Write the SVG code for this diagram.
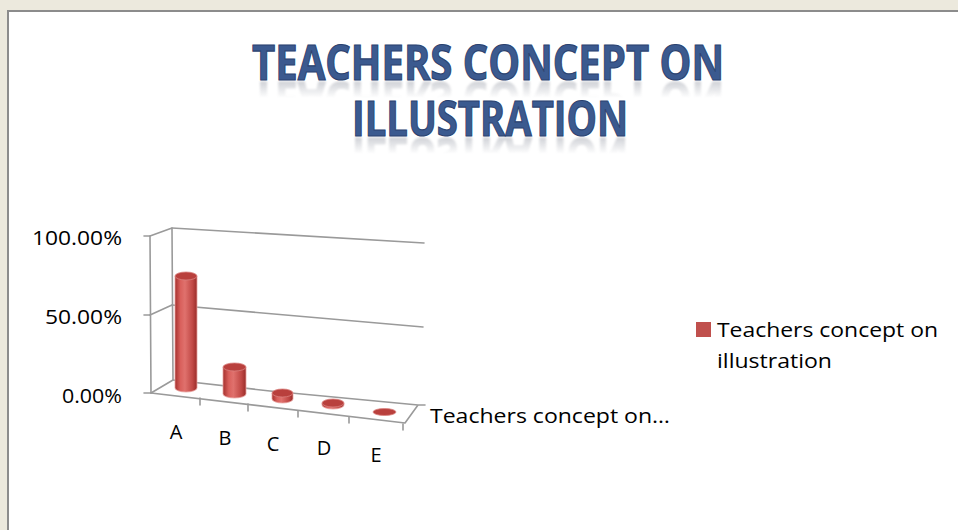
<svg xmlns="http://www.w3.org/2000/svg" xmlns:xlink="http://www.w3.org/1999/xlink" width="958" height="530" viewBox="0 0 958 530">
<style>
.ttl{font-family:"Open Sans","Liberation Sans",sans-serif;font-weight:bold;font-size:48px;fill:#3B5A8F;stroke:#2B426F;stroke-width:1.1}
.lbl{font-family:"Open Sans","Liberation Sans",sans-serif;font-size:20px;fill:#000}
.ax{fill:none;stroke:#9a9a9a;stroke-width:1.6;stroke-linecap:round;stroke-linejoin:round}
.top{fill:#b9403d;stroke:#d9827f;stroke-width:0.8}
.body{fill:url(#cyl);stroke:#e9a3a1;stroke-width:0.8}
</style>
<defs>
<linearGradient id="cyl" x1="0" y1="0" x2="1" y2="0">
<stop offset="0" stop-color="#a5302d"/>
<stop offset="0.25" stop-color="#d9605c"/>
<stop offset="0.45" stop-color="#e0716d"/>
<stop offset="0.8" stop-color="#c04845"/>
<stop offset="1" stop-color="#992c29"/>
</linearGradient>
<linearGradient id="fade1" gradientUnits="userSpaceOnUse" x1="0" y1="81" x2="0" y2="98">
<stop offset="0" stop-color="#fff" stop-opacity="0.28"/>
<stop offset="1" stop-color="#fff" stop-opacity="0"/>
</linearGradient>
<linearGradient id="fade2" gradientUnits="userSpaceOnUse" x1="0" y1="137" x2="0" y2="154">
<stop offset="0" stop-color="#fff" stop-opacity="0.28"/>
<stop offset="1" stop-color="#fff" stop-opacity="0"/>
</linearGradient>
<mask id="m1" maskUnits="userSpaceOnUse" x="0" y="0" width="958" height="530"><rect x="0" y="81" width="958" height="18" fill="url(#fade1)"/></mask>
<mask id="m2" maskUnits="userSpaceOnUse" x="0" y="0" width="958" height="530"><rect x="0" y="137" width="958" height="18" fill="url(#fade2)"/></mask>
<filter id="blur" x="-5%" y="-20%" width="110%" height="140%"><feGaussianBlur stdDeviation="1.1"/><feColorMatrix type="saturate" values="0.3"/></filter>
</defs>
<rect x="0" y="0" width="958" height="530" fill="#ECE9DD"/>
<rect x="8" y="11" width="960" height="530" fill="#ffffff" stroke="#8c8c8c" stroke-width="2"/>
<g id="title">
<text id="t1" class="ttl" x="252" y="80" textLength="472" lengthAdjust="spacingAndGlyphs">TEACHERS CONCEPT ON</text>
<text id="t2" class="ttl" x="352" y="136" textLength="276" lengthAdjust="spacingAndGlyphs">ILLUSTRATION</text>
<g mask="url(#m1)" filter="url(#blur)"><use xlink:href="#t1" href="#t1" transform="translate(0,162) scale(1,-1)"/></g>
<g mask="url(#m2)" filter="url(#blur)"><use xlink:href="#t2" href="#t2" transform="translate(0,274) scale(1,-1)"/></g>
</g>
<g id="axes">
<path class="ax" d="M150,236 L151,393 M144,236 L150,236 M144,315 L150,315 M144,393 L151,393"/>
<path class="ax" d="M172,228 L173,380 M150,236 L172,228 M150,315 L172,305 M151,393 L173,380"/>
<path class="ax" d="M172,228 L424,243 M172,305 L423,327"/>
<path class="ax" d="M173,380 L270,391 L418,405 L405,423 L151,393 M418,405 L425,405"/>
<path class="ax" d="M200,398 L200,405 M248,404 L248,411 M298,411 L298,417 M349,417 L349,423 M403,424 L403,430"/>
</g>
<g id="bars">
<g id="barA"><path class="body" d="M175,276 L175,388 A11,4 0 0 0 197,388 L197,276 Z"/><ellipse class="top" cx="186" cy="276" rx="11" ry="4"/></g>
<g id="barB"><path class="body" d="M223,367 L223,394 A11.5,4 0 0 0 246,394 L246,367 Z"/><ellipse class="top" cx="234.5" cy="367" rx="11.5" ry="4"/></g>
<g id="barC"><path class="body" d="M272,393 L272,399 A10.5,4 0 0 0 293,399 L293,393 Z"/><ellipse class="top" cx="282.5" cy="393" rx="10.5" ry="4"/></g>
<g id="barD"><path class="body" d="M322,403 L322,405 A11,4 0 0 0 344,405 L344,403 Z"/><ellipse class="top" cx="333" cy="403" rx="11" ry="4"/></g>
<g id="barE"><ellipse class="top" cx="384.5" cy="412" rx="11.5" ry="3.5"/></g>
</g>
<g id="yLabels" class="lbl" text-anchor="end">
<text x="122" y="245" textLength="90" lengthAdjust="spacingAndGlyphs">100.00%</text>
<text x="122" y="324" textLength="77" lengthAdjust="spacingAndGlyphs">50.00%</text>
<text x="122" y="403" textLength="60" lengthAdjust="spacingAndGlyphs">0.00%</text>
</g>
<g id="xLabels" class="lbl" text-anchor="middle">
<text x="176" y="439">A</text>
<text x="225" y="445">B</text>
<text x="273" y="451">C</text>
<text x="324" y="455">D</text>
<text x="376" y="462">E</text>
</g>
<g id="depthLabel">
<text class="lbl" x="430" y="423" textLength="240" lengthAdjust="spacingAndGlyphs">Teachers concept on…</text>
</g>
<g id="legend">
<rect x="696" y="322" width="15" height="15" fill="#C0504D"/>
<text class="lbl" x="717" y="337" textLength="221" lengthAdjust="spacingAndGlyphs">Teachers concept on</text>
<text class="lbl" x="717" y="368" textLength="115" lengthAdjust="spacingAndGlyphs">illustration</text>
</g>
</svg>
